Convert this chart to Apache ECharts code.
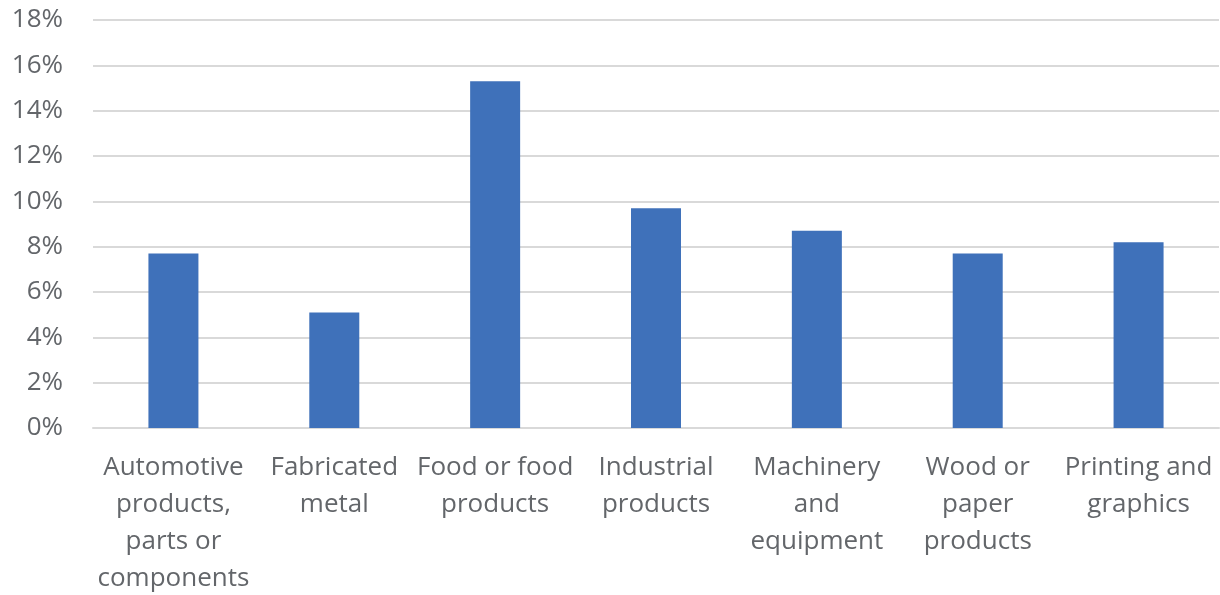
<!DOCTYPE html>
<html><head><meta charset="utf-8">
<script src="https://cdn.jsdelivr.net/npm/echarts@6/dist/echarts.min.js"></script>
<style>html,body{margin:0;padding:0;background:#fff}#c{width:1220px;height:595px}</style>
</head><body><div id="c"></div>
<script>
const categories = ["Automotive\nproducts,\nparts or\ncomponents","Fabricated\nmetal","Food or food\nproducts","Industrial\nproducts","Machinery\nand\nequipment","Wood or\npaper\nproducts","Printing and\ngraphics"];
const values = [7.7, 5.1, 15.3, 9.7, 8.7, 7.7, 8.2];
const yTicks = {min: 0, max: 18, interval: 2};
const chart = echarts.init(document.getElementById('c'));
const font = "'Open Sans', sans-serif";
chart.setOption({
  animation: false,
  grid: {left: 93, right: 1, top: 20, bottom: 167, outerBoundsMode: 'none', containLabel: false},
  xAxis: {
    type: 'category', data: categories,
    axisLine: {lineStyle: {color: '#d9d9d9', width: 2}},
    axisTick: {show: false},
    axisLabel: {interval: 0, color: '#63666a', fontSize: 26, lineHeight: 37, margin: 21, fontFamily: font}
  },
  yAxis: {
    type: 'value', min: yTicks.min, max: yTicks.max, interval: yTicks.interval,
    axisLine: {show: false}, axisTick: {show: false},
    splitLine: {lineStyle: {color: '#d9d9d9', width: 2}},
    axisLabel: {color: '#63666a', fontSize: 26, margin: 30, fontFamily: font, formatter: v => v + '%'}
  },
  series: [{type: 'bar', data: values, barWidth: 50, itemStyle: {color: '#3f71ba'}}]
});
</script></body></html>
